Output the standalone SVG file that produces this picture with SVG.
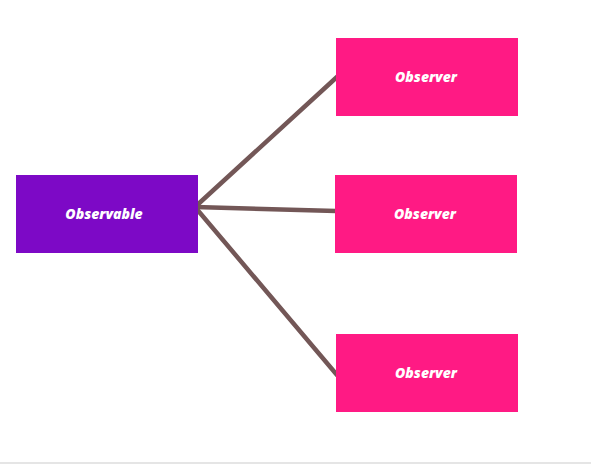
<svg xmlns="http://www.w3.org/2000/svg" width="591" height="464" viewBox="0 0 591 464">
<style>
.lbl{font-family:"Open Sans","Noto Sans",sans-serif;font-weight:800;font-style:italic;font-size:14px;fill:#ffffff;text-anchor:middle;dominant-baseline:central}
.obs{fill:#ff1a84}
.link{stroke:#735757;stroke-width:4.5;fill:none;stroke-linecap:round}
</style>
<rect width="591" height="464" fill="#ffffff"/>
<rect x="0" y="462" width="591" height="2" fill="#e5e5e5"/>
<g id="connectors">
<line class="link" x1="195" y1="207" x2="338" y2="76"/>
<line class="link" x1="195" y1="207" x2="336" y2="211"/>
<line class="link" x1="195" y1="207" x2="337" y2="375"/>
</g>
<g id="observable">
<rect x="16" y="175" width="182" height="78" fill="#7d09c6"/>
<text class="lbl" x="104" y="213">Observable</text>
</g>
<g id="observer1">
<rect class="obs" x="336" y="38" width="182" height="78"/>
<text class="lbl" x="426" y="76">Observer</text>
</g>
<g id="observer2">
<rect class="obs" x="335" y="175" width="182" height="78"/>
<text class="lbl" x="425" y="213">Observer</text>
</g>
<g id="observer3">
<rect class="obs" x="336" y="334" width="182" height="78"/>
<text class="lbl" x="426" y="372">Observer</text>
</g>
</svg>
